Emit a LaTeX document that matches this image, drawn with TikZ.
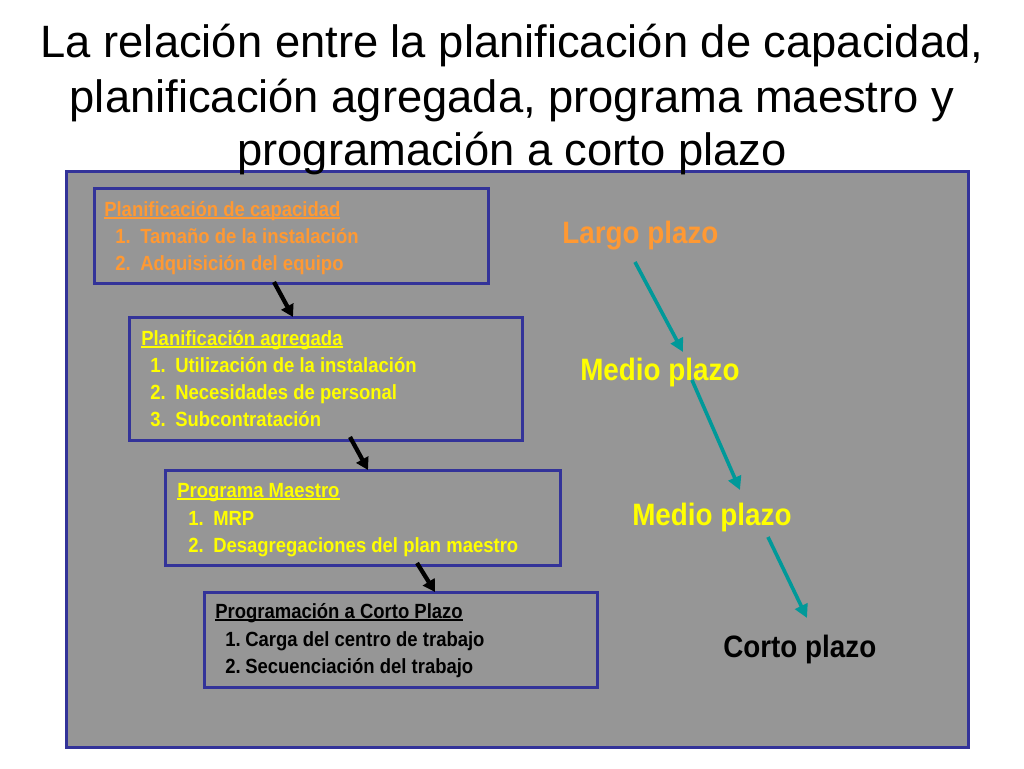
\documentclass[tikz,border=0pt]{standalone}
\usepackage{fontspec}
\setmainfont{Liberation Sans}
\newfontfamily\nar[FakeStretch=0.9]{Liberation Sans}
\usetikzlibrary{arrows.meta,calc}
\definecolor{bg}{RGB}{150,150,150}
\definecolor{frm}{RGB}{51,51,153}
\definecolor{org}{RGB}{255,153,51}
\definecolor{yel}{RGB}{255,255,0}
\definecolor{tealc}{RGB}{0,153,153}
\newcommand{\itm}[3]{\makebox[#1][l]{#2}#3}
\newcommand{\myul}[1]{\setbox0\hbox{#1}\rlap{\rule[-2.2pt]{\wd0}{1.1pt}}\box0}
\begin{document}
\begin{tikzpicture}[x=0.75pt,y=-0.75pt,
 framebox/.style={draw=frm, fill=bg, line width=2.25pt, inner sep=0pt, outer sep=0pt, anchor=north west},
 boxn/.style={draw=frm, line width=2.25pt, inner sep=0pt, outer sep=0pt, anchor=north west},
 ttl/.style={font=\fontsize{34}{40}\selectfont, anchor=base, inner sep=0pt},
 btxt/.style={font=\nar\bfseries\fontsize{15.4}{18}\selectfont, anchor=base west, inner sep=0pt},
 lbl/.style={font=\nar\bfseries\fontsize{23.2}{27}\selectfont, anchor=base west, inner sep=0pt},
 blk/.style={-{Triangle[length=9pt,width=10pt]}, line width=3.2pt, black},
 tl/.style={-{Triangle[length=10pt,width=10pt]}, line width=2.7pt, tealc}]
\useasboundingbox (0,0) rectangle (1024,768);
\fill[white] (0,0) rectangle (1024,768);

% frame
\node[framebox, minimum width=902*0.75pt, minimum height=576*0.75pt] (frame) at (66,171) {};

% title
\node[ttl] (title1) at (512,57) {La relación entre la planificación de capacidad,};
\node[ttl] (title2) at (512,112) {planificación agregada, programa maestro y};
\node[ttl] (title3) at (512,165) {programación a corto plazo};

% boxes
\node[boxn, minimum width=394*0.75pt, minimum height=95*0.75pt] (b1) at (94,188) {};
\node[boxn, minimum width=393*0.75pt, minimum height=123*0.75pt] (b2) at (129,317) {};
\node[boxn, minimum width=395*0.75pt, minimum height=95*0.75pt] (b3) at (165,470) {};
\node[boxn, minimum width=393*0.75pt, minimum height=95*0.75pt] (b4) at (204,592) {};

% box texts
\node[btxt, text=org] (t1a) at (104,216) {\myul{Planificación de capacidad}};
\node[btxt, text=org] (t1b) at (115,243) {\itm{18.75pt}{1.}{Tamaño de la instalación}};
\node[btxt, text=org] (t1c) at (115,270) {\itm{18.75pt}{2.}{Adquisición del equipo}};

\node[btxt, text=yel] (t2a) at (141,345) {\myul{Planificación agregada}};
\node[btxt, text=yel] (t2b) at (150,372) {\itm{18.75pt}{1.}{Utilización de la instalación}};
\node[btxt, text=yel] (t2c) at (150,399) {\itm{18.75pt}{2.}{Necesidades de personal}};
\node[btxt, text=yel] (t2d) at (150,426) {\itm{18.75pt}{3.}{Subcontratación}};

\node[btxt, text=yel] (t3a) at (177,497) {\myul{Programa Maestro}};
\node[btxt, text=yel] (t3b) at (188,525) {\itm{18.75pt}{1.}{MRP}};
\node[btxt, text=yel] (t3c) at (188,552) {\itm{18.75pt}{2.}{Desagregaciones del plan maestro}};

\node[btxt, text=black] (t4a) at (215,618) {\myul{Programación a Corto Plazo}};
\node[btxt, text=black] (t4b) at (225,646) {\itm{15pt}{1.}{Carga del centro de trabajo}};
\node[btxt, text=black] (t4c) at (225,673) {\itm{15pt}{2.}{Secuenciación del trabajo}};

% black arrows
\draw[blk] ($(b1.south west)+(180,-1)$) -- ($(b2.north west)+(164,0)$);
\draw[blk] ($(b2.south west)+(221,-3)$) -- ($(b3.north west)+(203,0)$);
\draw[blk] ($(b3.south west)+(252,-2)$) -- ($(b4.north west)+(231,0)$);

% labels
\node[lbl, text=org] (L) at (562,243) {Largo plazo};
\node[lbl, text=yel] (M1) at (580,380) {Medio plazo};
\node[lbl, text=yel] (M2) at (632,525) {Medio plazo};
\node[lbl, text=black] (C) at (723,657) {Corto plazo};

% teal arrows
\draw[tl] ($(L.base west)+(73,19)$) -- ($(M1.base west)+(103,-28)$);
\draw[tl] ($(M1.base west)+(112,0)$) -- ($(M2.base west)+(108,-35)$);
\draw[tl] ($(M2.base west)+(136,12)$) -- ($(C.base west)+(84,-39)$);
\end{tikzpicture}
\end{document}
